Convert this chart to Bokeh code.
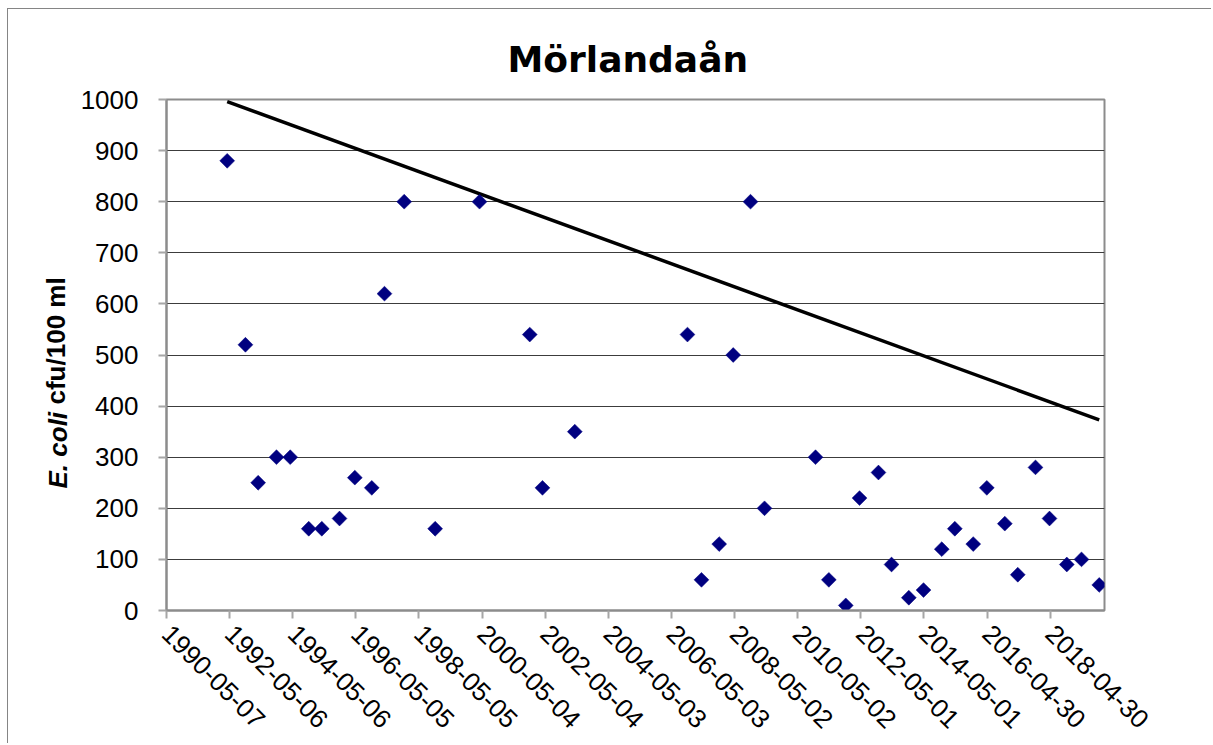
import numpy as np
import pandas as pd
from bokeh.plotting import figure
from bokeh.models import Range1d, FixedTicker, Title, DatetimeTickFormatter
from bokeh.embed import file_html
from bokeh.resources import INLINE

# ---------------- data ----------------
title_text = "Mörlandaån"
y_label_italic = "E. coli"
y_label_rest = "cfu/100 ml"

sample_dates = [
    "1992-04-08", "1992-11-05", "1993-04-01", "1993-10-30", "1994-04-07",
    "1994-11-07", "1995-04-07", "1995-10-29", "1996-04-23", "1996-11-05",
    "1997-04-01", "1997-11-15", "1998-11-08", "2000-04-04", "2001-11-06",
    "2002-04-02", "2003-04-11", "2006-11-04", "2007-04-15", "2007-11-06",
    "2008-04-16", "2008-11-02", "2009-04-13", "2010-11-24", "2011-04-27",
    "2011-11-09", "2012-04-16", "2012-11-21", "2013-04-21", "2013-11-07",
    "2014-04-26", "2014-11-23", "2015-04-23", "2015-11-22", "2016-04-27",
    "2016-11-21", "2017-04-20", "2017-11-11", "2018-04-22", "2018-11-08",
    "2019-04-27", "2019-11-18",
]
ecoli_values = [
    880, 520, 250, 300, 300,
    160, 160, 180, 260, 240,
    620, 800, 160, 800, 540,
    240, 350, 540, 60, 130,
    500, 800, 200, 300, 60,
    10, 220, 270, 90, 25,
    40, 120, 160, 130, 240,
    170, 70, 280, 180, 90,
    100, 50,
]
trend_dates = ["1992-04-08", "2019-11-18"]
trend_values = [996, 373]

x_tick_labels = [
    "1990-05-07", "1992-05-06", "1994-05-06", "1996-05-05", "1998-05-05",
    "2000-05-04", "2002-05-04", "2004-05-03", "2006-05-03", "2008-05-02",
    "2010-05-02", "2012-05-01", "2014-05-01", "2016-04-30", "2018-04-30",
]
y_ticks = [0, 100, 200, 300, 400, 500, 600, 700, 800, 900, 1000]
x_axis_start = "1990-05-07"
x_axis_end = "2020-01-18"
y_axis_start = 0
y_axis_end = 1000


def to_ms(dates):
    idx = pd.to_datetime(dates)
    return [int(v) for v in (idx - pd.Timestamp("1970-01-01")) / pd.Timedelta(milliseconds=1)]


x_ticks_ms = to_ms(x_tick_labels)

# ---------------- figure ----------------
p = figure(
    width=1204, height=735,
    x_axis_type="datetime",
    x_range=Range1d(to_ms([x_axis_start])[0], to_ms([x_axis_end])[0]),
    y_range=Range1d(y_axis_start, y_axis_end),
    output_backend="svg", toolbar_location=None,
    min_border_left=158, min_border_right=108,
    min_border_top=90, min_border_bottom=134,
    background_fill_color="white", border_fill_color="white",
    styles={"margin-left": "7px", "margin-top": "8px",
            "border-left": "1px solid #858585", "border-top": "1px solid #858585"},
)

p.outline_line_color = "#8c8c8c"
p.outline_line_width = 2

# grid
p.xgrid.visible = False
p.ygrid.ticker = FixedTicker(ticks=y_ticks)
p.ygrid.grid_line_color = "#3c3c3c"
p.ygrid.grid_line_width = 1.2

# y axis
p.yaxis.ticker = FixedTicker(ticks=y_ticks)
p.yaxis.axis_line_color = "#8c8c8c"
p.yaxis.axis_line_width = 2
p.yaxis.major_tick_line_color = "#a6a6a6"
p.yaxis.major_tick_line_width = 2
p.yaxis.major_tick_out = 8
p.yaxis.major_tick_in = 0
p.yaxis.minor_tick_line_color = None
p.yaxis.major_label_standoff = 20
p.yaxis.major_label_text_font = "Liberation Sans"
p.yaxis.major_label_text_font_size = "26px"
p.yaxis.major_label_text_color = "black"

# y axis title in two styles (two side titles placed end to end)
p.add_layout(Title(text=y_label_italic, align="left", offset=122, standoff=10,
                   vertical_align="bottom", text_font="Liberation Sans",
                   text_font_size="26px", text_font_style="bold italic",
                   text_color="black"), "left")
p.add_layout(Title(text=y_label_rest, align="left", offset=206, standoff=-70,
                   vertical_align="bottom", text_font="Liberation Sans",
                   text_font_size="26px", text_font_style="bold",
                   text_color="black"), "left")

# x axis
p.xaxis.ticker = FixedTicker(ticks=x_ticks_ms)
p.xaxis.formatter = DatetimeTickFormatter(
    days="%Y-%m-%d", months="%Y-%m-%d", years="%Y-%m-%d",
    hours="%Y-%m-%d", minutes="%Y-%m-%d", seconds="%Y-%m-%d",
    milliseconds="%Y-%m-%d", microseconds="%Y-%m-%d", minsec="%Y-%m-%d",
    hourmin="%Y-%m-%d",
)
p.xaxis.major_label_overrides = {t: lab for t, lab in zip(x_ticks_ms, x_tick_labels)}
p.xaxis.axis_line_color = "#8c8c8c"
p.xaxis.axis_line_width = 2
p.xaxis.major_tick_line_color = "#a6a6a6"
p.xaxis.major_tick_line_width = 2
p.xaxis.major_tick_out = 8
p.xaxis.major_tick_in = 0
p.xaxis.minor_tick_line_color = None
p.xaxis.major_label_orientation = -np.pi / 4
p.xaxis.major_label_standoff = 11
p.xaxis.major_label_text_font = "Liberation Sans"
p.xaxis.major_label_text_font_size = "26px"
p.xaxis.major_label_text_color = "black"

# title
p.add_layout(Title(text=title_text, align="left", offset=341, standoff=39,
                   vertical_align="bottom",
                   text_font="DejaVu Sans", text_font_size="36px",
                   text_font_style="bold", text_color="black"), "above")

# trend line
p.line(x=pd.to_datetime(trend_dates), y=trend_values, line_color="black", line_width=3.5)

# points
p.scatter(x=pd.to_datetime(sample_dates), y=ecoli_values, marker="square",
          angle=np.pi / 4, size=10.5, fill_color="#000080", line_color="#000080",
          line_width=0.5)

open("out.html", "w").write(file_html(p, INLINE))
